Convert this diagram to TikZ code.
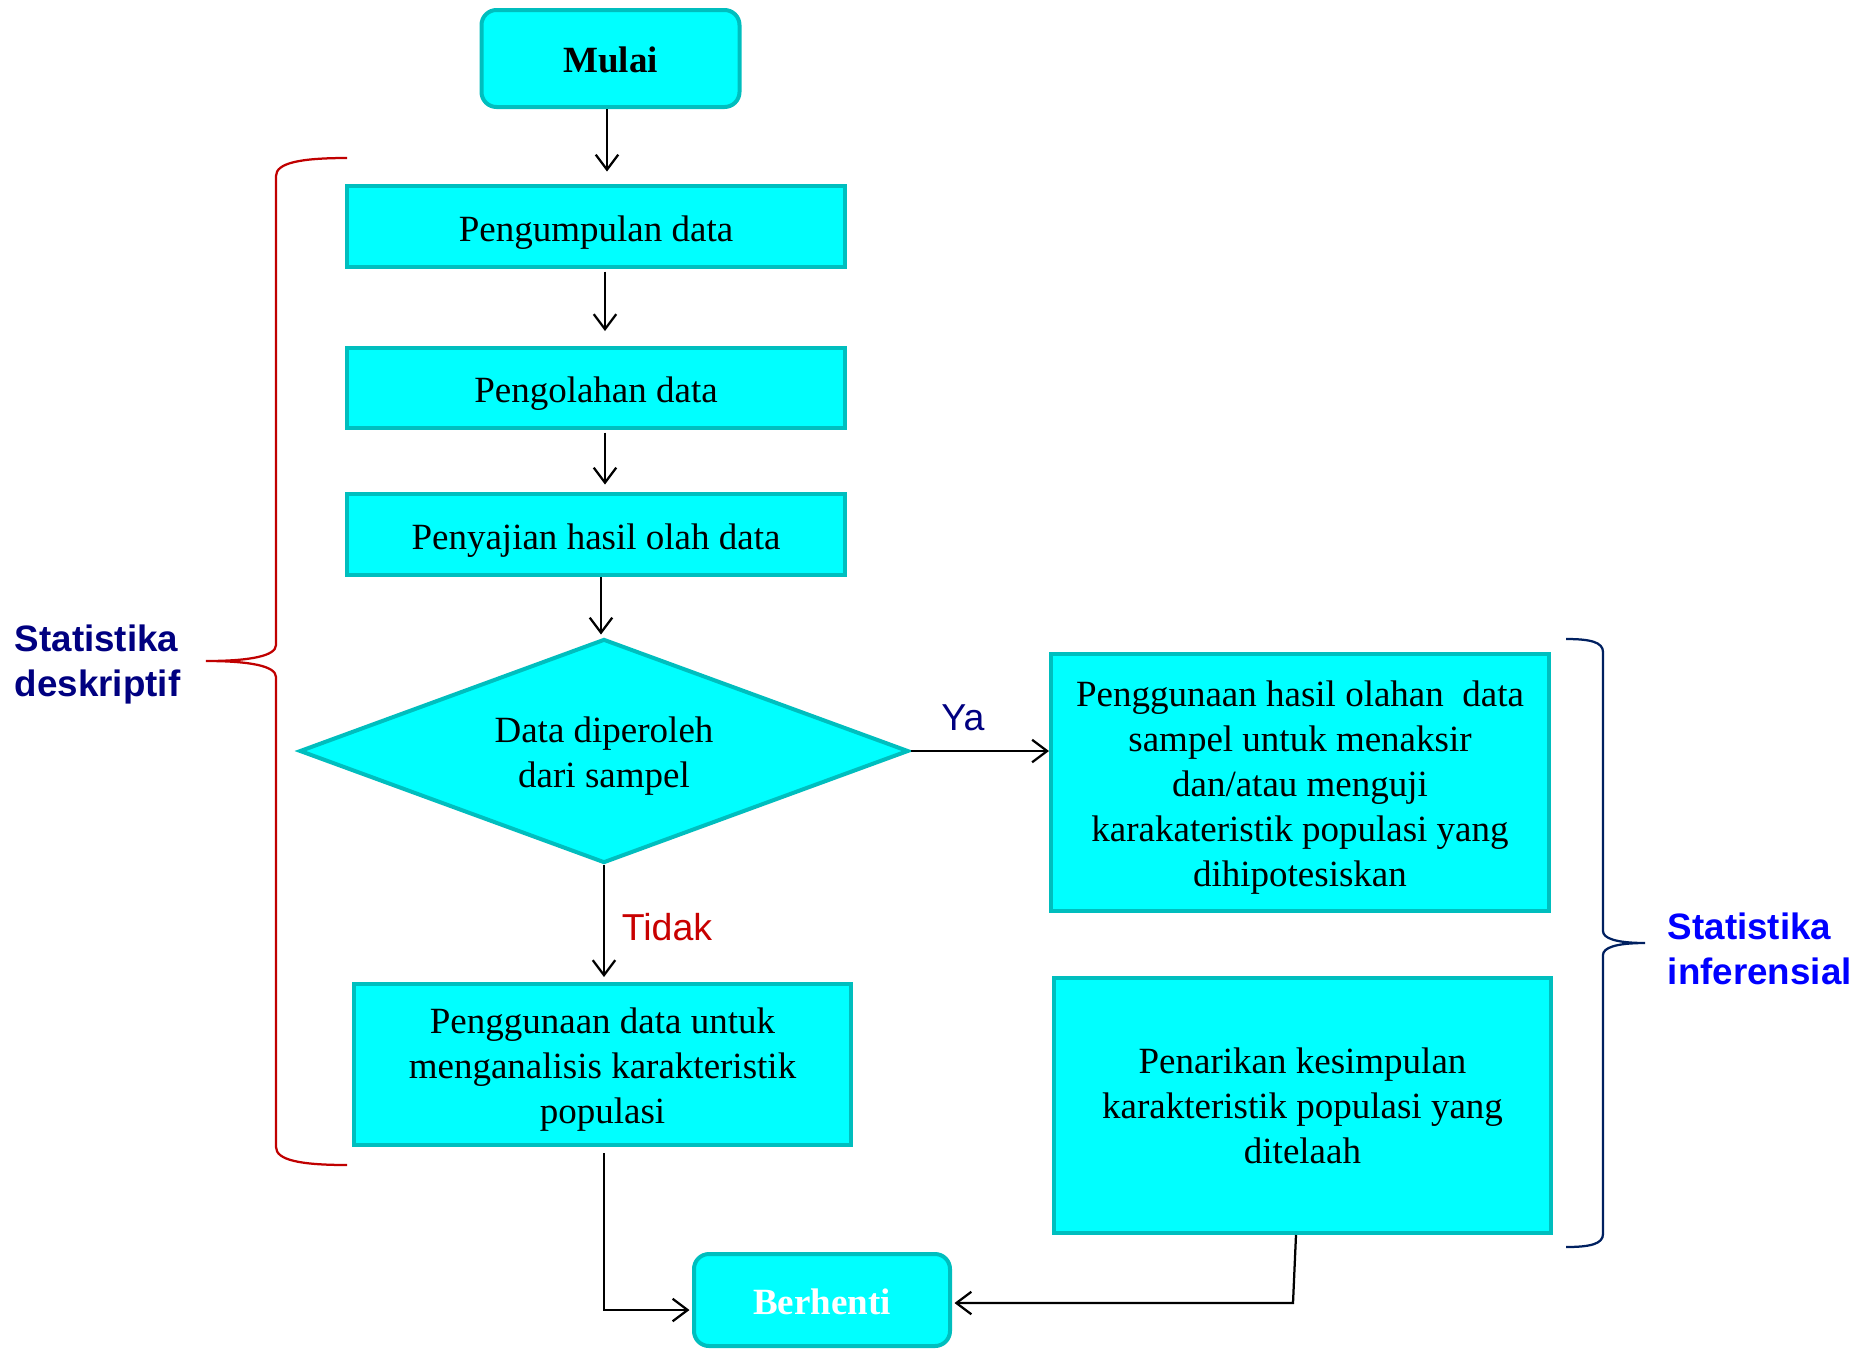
\documentclass[tikz,border=0pt]{standalone}
\usepackage{fontspec}
\setmainfont{Liberation Serif}
\newfontfamily\arialf{Liberation Sans}
\usetikzlibrary{shapes.geometric,arrows.meta,calc}
\definecolor{boxfill}{RGB}{0,255,255}
\definecolor{boxline}{RGB}{0,190,190}
\definecolor{bracered}{RGB}{192,0,0}
\definecolor{bracenavy}{RGB}{0,32,96}
\definecolor{labnavy}{RGB}{0,0,128}
\definecolor{labblue}{RGB}{0,0,255}
\definecolor{tidakred}{RGB}{200,0,0}
\newcommand\lowtxt[2][2.2pt]{\raisebox{-#1}[\height][\depth]{\begin{tabular}{@{}c@{}}#2\end{tabular}}}
\tikzset{
  flowbox/.style={draw=boxline, fill=boxfill, line width=1.6pt, inner sep=2pt,
    align=center, font=\fontsize{14.8}{18}\selectfont},
  termbox/.style={flowbox, rounded corners=6pt, font=\fontsize{14.8}{18}\selectfont\bfseries},
  decbox/.style={flowbox, diamond, aspect=2.7, inner sep=0pt},
  arr/.style={-{Straight Barb[length=6pt,width=9pt]}, line width=0.9pt, black},
  sidelab/.style={font=\fontsize{14.7}{18}\selectfont\arialf\bfseries, align=left, anchor=west},
  branchlab/.style={font=\fontsize{15}{18}\selectfont\arialf},
}
\begin{document}
\begin{tikzpicture}[x=0.4pt,y=-0.4pt]
\useasboundingbox (0,0) rectangle (1874,1348);

\node[termbox, minimum width=103.2pt, minimum height=38.8pt] (mulai) at (610.5,58.5) {\lowtxt[2pt]{Mulai}};
\node[flowbox, minimum width=199.2pt, minimum height=32.4pt] (b1) at (596,226.5) {\lowtxt{Pengumpulan data}};
\node[flowbox, minimum width=199.2pt, minimum height=32pt] (b2) at (596,388) {\lowtxt{Pengolahan data}};
\node[flowbox, minimum width=199.2pt, minimum height=32.4pt] (b3) at (596,534.5) {\lowtxt{Penyajian hasil olah data}};
\node[decbox, minimum width=243.6pt, minimum height=89.6pt] (dec) at (604,751) {\lowtxt[2pt]{Data diperoleh\\dari sampel}};
\node[flowbox, minimum width=199.2pt, minimum height=102.8pt] (rb1) at (1300,782.5)
  {\lowtxt[2pt]{Penggunaan hasil olahan\ \ data\\sampel untuk menaksir\\dan/atau menguji\\karakateristik populasi yang\\dihipotesiskan}};
\node[flowbox, minimum width=198.8pt, minimum height=64.4pt] (lb) at (602.5,1064.5)
  {\lowtxt[2pt]{Penggunaan data untuk\\menganalisis karakteristik\\populasi}};
\node[flowbox, minimum width=198.8pt, minimum height=102pt] (rb2) at (1302.5,1105.5)
  {\lowtxt[1.5pt]{Penarikan kesimpulan\\karakteristik populasi yang\\ditelaah}};
\node[termbox, minimum width=102.4pt, minimum height=36.8pt, text=white] (stop) at (822,1300) {\lowtxt[2pt]{Berhenti}};

% connectors
\draw[arr, shorten >=5pt] ([xshift=-1.4pt]mulai.south) -- ([xshift=-1.4pt]mulai.south |- b1.north);
\draw[arr, shorten >=6pt, shorten <=1pt] ([xshift=3.6pt]b1.south) -- ([xshift=3.6pt]b2.north);
\draw[arr, shorten >=3pt, shorten <=1pt] ([xshift=3.6pt]b2.south) -- ([xshift=3.6pt]b3.north);
\draw[arr, shorten >=1pt] ([xshift=2pt]b3.south) -- ([xshift=2pt]b3.south |- dec.north);
\draw[arr, shorten >=2pt] (dec.south) -- (dec.south |- lb.north);
\draw[arr] (dec.east) -- (dec.east -| rb1.west);
\coordinate (lbturn) at ($(lb.south)+(0.6pt,0)$);
\draw[arr, shorten >=1pt] ([yshift=-2.4pt]lbturn) |- ([yshift=-4pt]stop.west);
\coordinate (rbtop) at ($(rb2.south)+(-2.6pt,0)$);
\coordinate (rbcorner) at ($(rb2.south)+(-3.8pt,-27.2pt)$);
\draw[arr, shorten >=1pt] (rbtop) -- (rbcorner) -- (rbcorner -| stop.east);

\node[branchlab, text=labnavy] (ya) at (963,718) {Ya};
\node[branchlab, text=tidakred] (tidak) at (667,927) {Tidak};

% braces
\draw[bracered, line width=0.9pt] (347,158) .. controls (300,158) and (276,163) .. (276,176)
  -- (276,645) .. controls (276,656) and (250,661) .. (206,661)
  .. controls (250,661) and (276,666) .. (276,677)
  -- (276,1147) .. controls (276,1160) and (300,1165) .. (347,1165);
\draw[bracenavy, line width=0.9pt] (1566,639) .. controls (1590,639) and (1603,642) .. (1603,652)
  -- (1603,931) .. controls (1603,938) and (1615,943) .. (1645,943)
  .. controls (1615,943) and (1603,948) .. (1603,955)
  -- (1603,1234) .. controls (1603,1244) and (1590,1247) .. (1566,1247);

\node[sidelab, text=labnavy] (desk) at (6,664) {Statistika\\deskriptif};
\node[sidelab, text=labblue] (infer) at (1659,949) {Statistika\\inferensial};
\end{tikzpicture}
\end{document}
